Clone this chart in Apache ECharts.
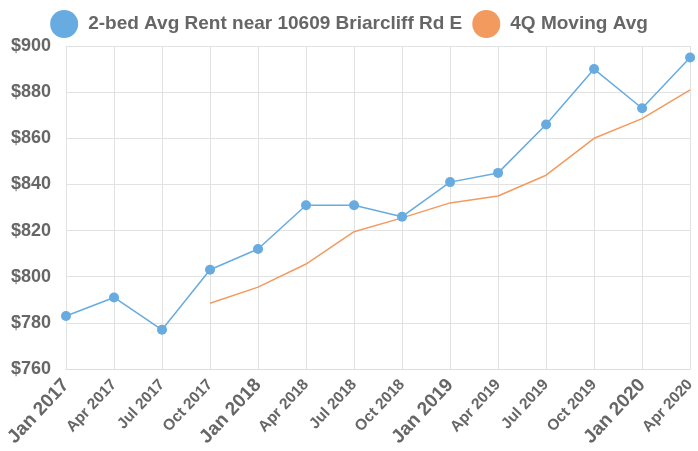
<!DOCTYPE html>
<html><head><meta charset="utf-8">
<script src="https://cdn.jsdelivr.net/npm/echarts@6/dist/echarts.min.js"></script>
<style>html,body{margin:0;padding:0;background:#fff;overflow:hidden}#c{width:698px;height:451px}</style>
</head><body><div id="c"></div>
<script>
const categories = ['Jan 2017','Apr 2017','Jul 2017','Oct 2017','Jan 2018','Apr 2018','Jul 2018','Oct 2018','Jan 2019','Apr 2019','Jul 2019','Oct 2019','Jan 2020','Apr 2020'];
const rentValues = [783, 791, 777, 803, 812, 831, 831, 826, 841, 845, 866, 890, 873, 895];
const movingAvgValues = [null, null, null, 788.5, 795.5, 805.5, 819.5, 825.5, 832, 835, 844, 860, 868.5, 881];
const yTicks = [760, 780, 800, 820, 840, 860, 880, 900];

const chart = echarts.init(document.getElementById('c'));
chart.setOption({
  animation: false,
  textStyle: { fontFamily: 'Liberation Sans, Arial, sans-serif' },
  legend: {
    top: 5, left: 'center',
    itemWidth: 30, itemHeight: 28, itemGap: 10,
    icon: 'circle',
    textStyle: { fontSize: 19, fontWeight: 'bold', color: '#666', padding: [0, 0, 0, 4] },
    data: ['2-bed Avg Rent near 10609 Briarcliff Rd E', '4Q Moving Avg']
  },
  grid: { left: 66, width: 630, top: 46, bottom: 82, containLabel: false },
  xAxis: {
    type: 'category', data: categories, boundaryGap: false,
    axisLine: { show: true, lineStyle: { color: '#ddd' } },
    axisTick: { show: false },
    splitLine: { show: true, lineStyle: { color: '#e2e2e2' } },
    axisLabel: {
      rotate: 47, interval: 0, margin: 13, color: '#666',
      formatter: v => v.startsWith('Jan') ? '{b|' + v + '}' : '{s|' + v + '}',
      rich: {
        b: { fontSize: 19, fontWeight: 'bold', color: '#666' },
        s: { fontSize: 15.5, fontWeight: 'bold', color: '#666' }
      }
    }
  },
  yAxis: {
    type: 'value', min: yTicks[0], max: yTicks[yTicks.length-1], interval: 20,
    axisLine: { show: false }, axisTick: { show: false },
    splitLine: { lineStyle: { color: '#e2e2e2' } },
    axisLabel: { formatter: v => '$' + v, fontSize: 18, fontWeight: 'bold', color: '#666', margin: 15 }
  },
  series: [
    {
      name: '2-bed Avg Rent near 10609 Briarcliff Rd E', type: 'line', data: rentValues,
      color: '#67abe0', symbol: 'circle', symbolSize: 10, showAllSymbol: true,
      lineStyle: { width: 1.5, color: '#67abe0' }, itemStyle: { color: '#67abe0' },
      clip: false
    },
    {
      name: '4Q Moving Avg', type: 'line', data: movingAvgValues,
      color: '#f39a5e', symbol: 'none',
      lineStyle: { width: 1.5, color: '#f39a5e' }, itemStyle: { color: '#f39a5e' }
    }
  ]
});
</script></body></html>
